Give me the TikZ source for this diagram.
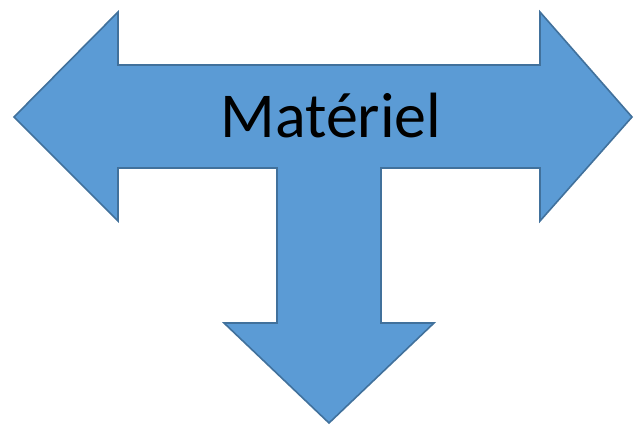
\documentclass[tikz,border=0pt]{standalone}
\usepackage{fontspec}
\setmainfont{Carlito}
\definecolor{arrowfill}{HTML}{5B9BD5}
\definecolor{arrowline}{HTML}{41719C}
\begin{document}
\begin{tikzpicture}[x=1pt,y=-1pt,
  tshape/.style={fill=arrowfill,draw=arrowline,line width=1.6pt,line join=miter}]
\useasboundingbox (0,0) rectangle (634,426);
% three-way arrow: left, right and down
\draw[tshape]
  (14,117) -- (118,12) -- (118,65) -- (540,65) -- (540,12) -- (632,117)
  -- (540,221) -- (540,168) -- (381,168) -- (381,323) -- (434,323)
  -- (329,423) -- (224,323) -- (277,323) -- (277,168) -- (118,168)
  -- (118,221) -- cycle;
\node[font=\fontsize{64}{70}\selectfont, anchor=base] (label) at (331,137) {Matériel};
\end{tikzpicture}
\end{document}
